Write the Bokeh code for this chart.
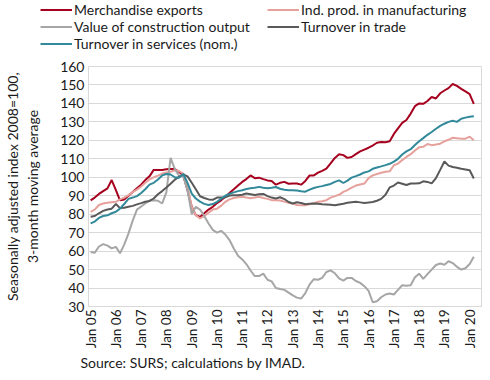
import math
import pandas as pd
from bokeh.plotting import figure
from bokeh.layouts import column, row
from bokeh.models import (Range1d, FixedTicker, DatetimeTickFormatter, Legend,
                          LegendItem, Title, ColumnDataSource)
from bokeh.embed import file_html
from bokeh.resources import INLINE

# ---------------- data (bimonthly, Jan 2005 - Mar 2020) ----------------
start_month = "2005-01-01"
n_points = 92

exports = [
    87.5, 89, 91, 92.5, 94, 98.5,
    93, 87.5, 88, 90, 92, 94,
    96, 98.5, 100.5, 104, 104, 104,
    104.3, 104.5, 104.5, 103, 101, 93,
    84, 79.5, 78.5, 80.5, 82.5, 84,
    86, 87.5, 89.5, 91.5, 93.5, 95.5,
    97.5, 99, 101, 99.5, 99.8, 99,
    98.3, 98, 96, 97, 97.5, 96.5,
    96.6, 96.6, 96, 98, 101, 101,
    102.5, 103.5, 104.7, 107.5, 110.5, 112.5,
    112, 110.5, 111, 112.5, 114, 115,
    116, 117.2, 118.7, 119.1, 119, 119.5,
    123.5, 126.5, 129.5, 131, 134.5, 138.5,
    140, 139.8, 141.3, 143.5, 142.7, 145.5,
    147, 148.3, 150.5, 149.5, 147.9, 146.5,
    145, 139.8,
]

manufacturing = [
    81.3, 82.5, 85, 85.8, 86.2, 86.5,
    86.7, 88, 89, 90.3, 92, 93.3,
    95, 97, 98.8, 100, 100.9, 102,
    102.6, 103, 103.8, 103.4, 102, 95,
    84, 79.5, 77.7, 79, 80.8, 82.5,
    83, 84.5, 86.7, 88, 88.8, 89.2,
    89.4, 89, 88.6, 89, 89.4, 88.8,
    88.3, 87.6, 87.6, 87.4, 86.8, 86.2,
    85.7, 85, 84.9, 84.9, 85.4, 86,
    86.7, 87, 87.6, 89, 89.8, 90.5,
    92.1, 93, 94.4, 95.5, 96.1, 96.6,
    99.5, 101, 101.8, 102.4, 103, 103.2,
    106.5, 107.4, 109.3, 111, 112.5, 114.5,
    116.2, 116.5, 118, 117.4, 117.7, 118.2,
    119.5, 120.3, 121.4, 121.2, 120.9, 120.9,
    122, 120,
]

construction = [
    59.5, 59.1, 62.5, 63.8, 63, 61.5,
    62.3, 58.8, 63.5, 69.5, 76.5, 82.5,
    84.2, 85.8, 87.3, 87.6, 87.3, 85.8,
    92, 110.5, 104.5, 100.8, 100.5, 93,
    80, 84, 82.5, 79, 75, 71.5,
    70, 71, 69, 66, 61.4, 57.5,
    55.5, 53, 49.5, 46.5, 46.5, 47.8,
    44.5, 43.6, 40, 39.5, 39, 37.5,
    36, 34.8, 34.3, 37.3, 42, 44.8,
    44.5, 45.5, 48.7, 49.6, 48, 45.2,
    44, 45.5, 45.5, 43.8, 42.8, 41,
    38.5, 32.3, 32.8, 35, 36.5, 37,
    36.5, 39, 41.5, 41.2, 41.5, 45.8,
    47.8, 45, 47.5, 50, 52.5, 53.3,
    52.6, 54.5, 53.5, 51.5, 50, 50.7,
    53, 57,
]

trade = [
    78.6, 79, 80.5, 81.8, 82.5, 83,
    85.5, 83.3, 83.5, 84, 84.5, 85.3,
    86, 86.7, 87.2, 88.5, 90.8, 92.5,
    94.5, 96.5, 98.7, 100.2, 101.5, 100.5,
    97, 93.5, 89.7, 88.8, 88, 87.8,
    89, 89, 89.2, 90.1, 90.3, 90.3,
    90.5, 91.2, 90.8, 90.4, 90.8, 91,
    89.8, 89, 88.5, 89.2, 88.2, 86.6,
    85.8, 86.5, 86.1, 85.4, 85.6, 85.8,
    85.6, 85.4, 85.3, 85.1, 84.9, 85.3,
    85.7, 86.2, 86.5, 86.7, 86.4, 86.1,
    86.3, 86.6, 87.3, 88.3, 90.5, 94.5,
    95.5, 97.2, 96.5, 95.8, 96.6, 96.6,
    96.7, 97.8, 97.5, 96.7, 99.6, 104,
    108.5, 106.3, 105.6, 105.2, 104.6, 104.2,
    103.8, 99.3,
]

services = [
    75, 76, 78, 79, 79.4, 80.5,
    81.3, 83, 85.5, 88.3, 89, 89.8,
    91.5, 93.5, 96, 97, 98.8, 101,
    101.8, 101.5, 100, 99.8, 101.8, 97,
    91.2, 88.5, 86.8, 85.6, 85, 85.5,
    86.7, 88.3, 90, 91, 91.8, 92.5,
    93, 93.6, 94, 94.3, 94.8, 94.3,
    94, 94.3, 94.7, 93.8, 93.2, 93,
    93, 92.8, 92.4, 92.2, 93.3, 94.2,
    94.8, 95.2, 95.8, 96.4, 97.5, 98.3,
    96.9, 98.2, 99.8, 100.6, 101.5, 102.6,
    103.2, 104.6, 105.3, 105.9, 106.6, 107.3,
    108.5, 110, 112.3, 114, 115.2, 117.5,
    119.5, 121.2, 123, 124.5, 126.3, 127.8,
    129, 130, 130.6, 130, 131.7, 132.3,
    132.8, 133,
]

series_names = ["Merchandise exports", "Ind. prod. in manufacturing",
                "Value of construction output", "Turnover in trade",
                "Turnover in services (nom.)"]
series_colors = ["#a6001f", "#e6a19c", "#a6a6a6", "#595959", "#31899a"]
tick_years = list(range(2005, 2021))
source_text = "Source: SURS; calculations by IMAD."

# ---------------- layout constants ----------------
FONT = "Lato"
W = 482
LEG_FIG_H = 56
MAIN_H = 320
LEG_H = 51

# ---------------- main figure ----------------
dates = pd.date_range(start_month, periods=n_points, freq="2MS")
src = ColumnDataSource(dict(date=dates, exports=exports, manufacturing=manufacturing,
                            construction=construction, trade=trade, services=services))
cols = ["exports", "manufacturing", "construction", "trade", "services"]

p = figure(width=W, height=MAIN_H, x_axis_type="datetime",
           output_backend="svg", toolbar_location=None,
           x_range=Range1d(pd.Timestamp("2004-12-01"), pd.Timestamp("2020-06-20")),
           y_range=Range1d(30, 160),
           min_border_left=88, min_border_right=1,
           min_border_top=10, min_border_bottom=70)

p.outline_line_color = "#d9d9d9"
p.xgrid.grid_line_color = None
p.ygrid.grid_line_color = "#d9d9d9"
p.ygrid.grid_line_width = 1

ticks_ms = [pd.Timestamp(f"{y}-01-01").value / 1e6 for y in tick_years]
p.xaxis.ticker = FixedTicker(ticks=ticks_ms)
fmt = "Jan %y"
p.xaxis.formatter = DatetimeTickFormatter(years=fmt, months=fmt, days=fmt,
                                          hours=fmt, minutes=fmt, seconds=fmt,
                                          milliseconds=fmt, microseconds=fmt)
p.xaxis.major_label_orientation = math.pi / 2
p.yaxis.ticker = FixedTicker(ticks=list(range(30, 161, 10)))

for ax in (p.xaxis[0], p.yaxis[0]):
    ax.axis_line_color = "#d9d9d9"
    ax.major_tick_line_color = None
    ax.minor_tick_line_color = None
    ax.major_tick_out = 0
    ax.major_tick_in = 0
    ax.minor_tick_out = 0
    ax.minor_tick_in = 0
    ax.major_label_text_font = FONT
    ax.major_label_text_font_size = "14px"
    ax.major_label_text_color = "#1a1a1a"
    ax.major_label_standoff = 4
p.xaxis.major_label_text_font_size = "13.5px"
p.xaxis.major_label_standoff = 3

p.yaxis.axis_label = "Seasonally adjusted index 2008=100,\n3-month moving average"
p.yaxis.axis_label_text_font = FONT
p.yaxis.axis_label_text_font_size = "14px"
p.yaxis.axis_label_text_font_style = "normal"
p.yaxis.axis_label_text_color = "#1a1a1a"
p.yaxis.axis_label_standoff = 16

for c, color in zip(cols, series_colors):
    p.line("date", c, source=src, line_color=color, line_width=2)

p.add_layout(Title(text=source_text, align="left", offset=-8, standoff=0,
                   text_font=FONT, text_font_size="14px", text_font_style="normal",
                   text_line_height=1.0, text_color="#1a1a1a"), "below")

# ---------------- legend strip (separate canvas above the chart) ----------------
# its ranges lie far from the data, so the series lines themselves are not drawn
# here; they only supply the legend swatches.
leg = figure(width=W, height=LEG_FIG_H, output_backend="svg", toolbar_location=None,
             x_axis_location=None, y_axis_location=None,
             x_range=Range1d(0, 1), y_range=Range1d(0, 1),
             min_border=0, min_border_left=0, min_border_right=0,
             min_border_top=0, min_border_bottom=0, outline_line_color=None)
leg.grid.visible = False
swatches = {c: leg.line("date", c, source=src, line_color=color, line_width=2)
            for c, color in zip(cols, series_colors)}
# column-major legend: first column holds items 0-2, second column 3-4
order = ["exports", "construction", "services", "manufacturing", "trade"]
name_of = dict(zip(cols, series_names))
items = [LegendItem(label=name_of[c], renderers=[swatches[c]]) for c in order]
legend = Legend(items=items, ncols=2, location=(40, LEG_FIG_H - 1 - LEG_H),
                border_line_color=None, background_fill_alpha=0,
                padding=0, margin=0, spacing=0,
                glyph_width=32, glyph_height=17, label_height=17,
                label_standoff=2, label_width=193,
                label_text_font=FONT, label_text_font_size="14px",
                label_text_color="#1a1a1a")
leg.add_layout(legend, "center")

layout = column(row(leg), p, spacing=0)
open("out.html", "w").write(file_html(layout, INLINE))
